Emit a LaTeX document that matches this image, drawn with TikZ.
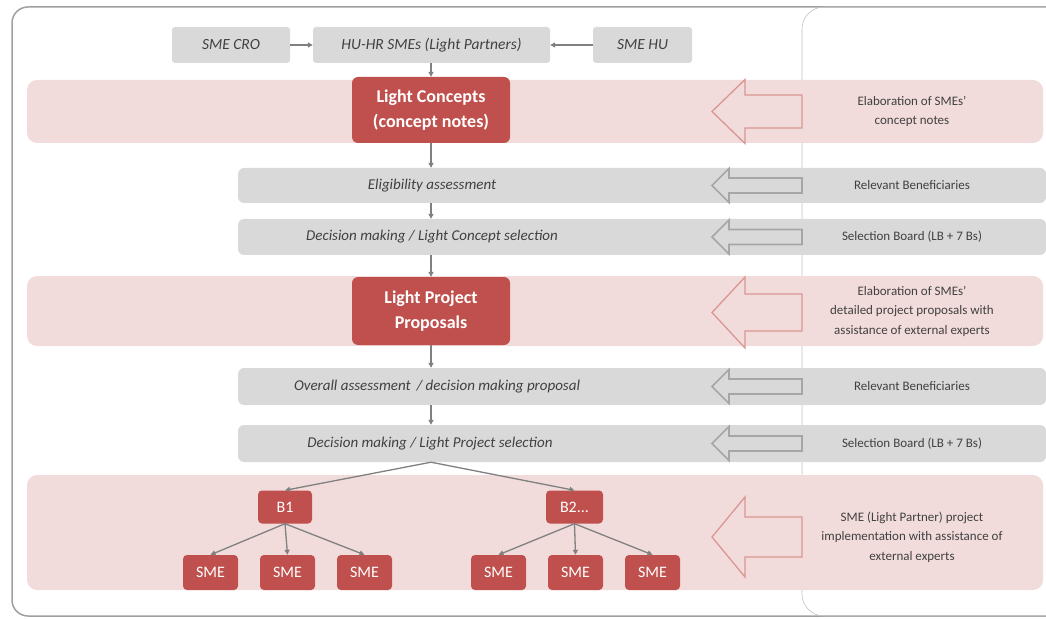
\documentclass[tikz,border=0pt]{standalone}
\usepackage{fontspec}
\setmainfont{Carlito}
\usetikzlibrary{positioning, arrows.meta}
\definecolor{BandPink}{RGB}{242, 220, 219}
\definecolor{BandGray}{RGB}{217, 217, 217}
\definecolor{BoxRed}{RGB}{192, 80, 77}
\definecolor{ArrowPink}{RGB}{217, 150, 148}
\definecolor{ArrowGray}{RGB}{166, 166, 166}
\definecolor{LineGray}{RGB}{128, 128, 128}
\definecolor{TextGray}{RGB}{64, 64, 64}
\definecolor{FrameGray}{RGB}{160, 160, 160}

\tikzset{
  pinkband/.style={fill=BandPink, rounded corners=10pt, inner sep=0pt},
  grayband/.style={fill=BandGray, rounded corners=6pt, inner sep=0pt},
  topbox/.style={fill=BandGray, rounded corners=3pt, minimum height=36pt, text=TextGray, font=\fontsize{15.5}{18}\selectfont\itshape},
  steptext/.style={text=TextGray, font=\fontsize{15}{18}\selectfont\itshape},
  sidetext/.style={text=TextGray, align=center, font=\fontsize{13}{19.5}\selectfont},
  redbox/.style={fill=BoxRed, rounded corners=6pt, text=white, align=center, font=\fontsize{18}{25}\selectfont\bfseries},
  smallred/.style={fill=BoxRed, rounded corners=4pt, text=white, minimum height=33pt, font=\fontsize{16}{18}\selectfont},
  flow/.style={draw=LineGray, line width=1.3pt, -{Triangle[length=5pt, width=5pt]}},
  pinkarrow/.style={draw=ArrowPink, line width=1.3pt, fill=BandPink},
  grayarrow/.style={draw=ArrowGray, line width=1.6pt, fill=BandGray}
}

% hollow arrow pointing left: y centre, head half height, shaft half height, head base x
\newcommand{\bandarrow}[5]{%
  \draw[#5] (802,{#1-#3}) -- (#4,{#1-#3}) -- (#4,{#1-#2}) -- (712,#1)
    -- (#4,{#1+#2}) -- (#4,{#1+#3}) -- (802,{#1+#3}) -- cycle;
}

\begin{document}
\begin{tikzpicture}[x=1pt, y=-1pt]
    \useasboundingbox (0,0) rectangle (1046,620);
    \clip (0,0) rectangle (1046,620);

    % Frames
    \draw[FrameGray, line width=1.5pt, rounded corners=16pt] (12,7) rectangle (1080,616);
    \draw[ArrowGray!70, line width=0.6pt, rounded corners=22pt] (802,7) rectangle (1080,616);

    % Bands
    \node[pinkband, minimum width=1016pt, minimum height=63pt] (band1) at (535,111.5) {};
    \node[grayband, minimum width=808pt, minimum height=35pt] (band2) at (642,185.5) {};
    \node[grayband, minimum width=808pt, minimum height=36pt] (band3) at (642,237) {};
    \node[pinkband, minimum width=1016pt, minimum height=70pt] (band4) at (535,311) {};
    \node[grayband, minimum width=808pt, minimum height=37pt] (band5) at (642,386.5) {};
    \node[grayband, minimum width=808pt, minimum height=37pt] (band6) at (642,443.5) {};
    \node[pinkband, minimum width=1016pt, minimum height=115pt] (band7) at (535,532.5) {};

    % Hollow arrows from the right column
    \bandarrow{111.5}{32}{16.5}{745}{pinkarrow}
    \bandarrow{185.5}{17}{7.5}{729}{grayarrow}
    \bandarrow{237}{17}{7.5}{729}{grayarrow}
    \bandarrow{312.5}{35.5}{18.5}{745}{pinkarrow}
    \bandarrow{386.5}{17}{7.5}{729}{grayarrow}
    \bandarrow{443.5}{17}{7.5}{729}{grayarrow}
    \bandarrow{537}{40}{20}{745}{pinkarrow}

    % Top row
    \node[topbox, minimum width=118pt] (cro) at (231,45) {SME CRO};
    \node[topbox, minimum width=237pt] (partners) at (431.5,45) {HU-HR SMEs (Light Partners)};
    \node[topbox, minimum width=99pt] (hu) at (642.5,45) {SME HU};

    % Main steps
    \node[redbox, minimum width=158pt, minimum height=66pt] (concepts) at (431,110) {Light Concepts\\(concept notes)};
    \node[steptext] (elig) at (432,185.5) {Eligibility assessment};
    \node[steptext] (selconcept) at (432,237) {Decision making / Light Concept selection};
    \node[redbox, minimum width=158pt, minimum height=68pt] (proposals) at (431,311) {Light Project\\Proposals};
    \node[steptext] (overall) at (437,386.5) {Overall assessment\, / decision making proposal};
    \node[steptext] (selproject) at (430,443.5) {Decision making / Light Project selection};

    % Beneficiaries and SMEs
    \node[smallred, minimum width=54pt] (b1) at (285,507) {B1};
    \node[smallred, minimum width=57pt] (b2) at (574.5,507) {B2...};
    \foreach \name/\x in {s1/210.5, s2/287.5, s3/364.5, s4/498.5, s5/575.5, s6/652.5} {
      \node[smallred, minimum width=55pt, minimum height=35pt] (\name) at (\x,572.5) {SME};
    }

    % Right column
    \node[sidetext] (who1) at (912,111.5) {Elaboration of SMEs’\\concept notes};
    \node[sidetext] (who2) at (912,185.5) {Relevant Beneficiaries};
    \node[sidetext] (who3) at (912,237) {Selection Board (LB + 7 Bs)};
    \node[sidetext] (who4) at (912,311) {Elaboration of SMEs’\\detailed project proposals with\\assistance of external experts};
    \node[sidetext] (who5) at (912,386.5) {Relevant Beneficiaries};
    \node[sidetext] (who6) at (912,443.5) {Selection Board (LB + 7 Bs)};
    \node[sidetext] (who7) at (912,537) {SME (Light Partner) project\\implementation with assistance of\\external experts};

    % Flow
    \draw[flow] (cro) -- (partners);
    \draw[flow] (hu) -- (partners);
    \draw[flow] (partners.south -| concepts) -- (concepts.north);
    \draw[flow] (concepts.south) -- (concepts.south |- band2.north);
    \draw[flow] (concepts.south |- band2.south) -- (concepts.south |- band3.north);
    \draw[flow] (concepts.south |- band3.south) -- (proposals.north);
    \draw[flow] (proposals.south) -- (proposals.south |- band5.north);
    \draw[flow] (proposals.south |- band5.south) -- (proposals.south |- band6.north);
    \coordinate (split) at (proposals.south |- band6.south);
    \draw[flow] (split) -- (b1.north);
    \draw[flow] (split) -- (b2.north);
    \foreach \s in {s1, s2, s3} {
      \draw[flow] (b1.south) -- (\s.north);
    }
    \foreach \s in {s4, s5, s6} {
      \draw[flow] (b2.south) -- (\s.north);
    }
\end{tikzpicture}
\end{document}
